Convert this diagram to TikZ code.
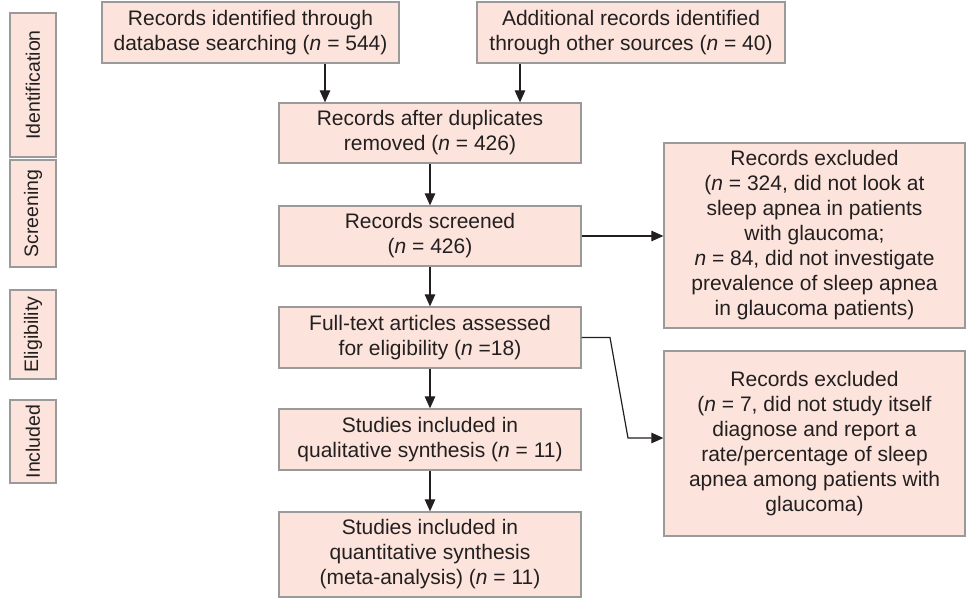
\documentclass[tikz,border=0pt]{standalone}
\usepackage{fontspec}
\setmainfont{Liberation Sans}
\usetikzlibrary{arrows.meta,calc}
\definecolor{boxfill}{HTML}{FCE4DC}
\definecolor{boxline}{HTML}{9A9A9A}
\definecolor{txt}{HTML}{231F20}
\begin{document}
\begin{tikzpicture}[x=1pt,y=-1pt,
  box/.style={draw=boxline,fill=boxfill,line width=1.3pt,align=center,inner sep=2pt,
    text=txt,font=\fontsize{21}{25}\selectfont},
  side/.style={draw=boxline,fill=boxfill,line width=1.3pt,align=center,inner sep=1pt,
    text=txt,rotate=90,font=\fontsize{19.5}{23}\selectfont,minimum height=46pt},
  arr/.style={draw=txt,line width=1.2pt,-{Triangle[width=10.5pt,length=12pt]}}]
\useasboundingbox (0,0) rectangle (967,600);
% side labels
\node[side,minimum width=144pt] (s1) at (33,85) {Identification};
\node[side,minimum width=107pt] (s2) at (33,213.5) {Screening};
\node[side,minimum width=89pt] (s3) at (33,334.5) {Eligibility};
\node[side,minimum width=83pt] (s4) at (33,441.5) {Included};
% main boxes
\node[box,minimum width=297pt,minimum height=61pt] (b1) at (250.5,32.5)
  {Records identified through\\database searching (\textit{n} = 544)};
\node[box,minimum width=308pt,minimum height=61pt] (b2) at (631,32.5)
  {Additional records identified\\through other sources (\textit{n} = 40)};
\node[box,minimum width=302pt,minimum height=60pt] (b3) at (430,133)
  {Records after duplicates\\removed (\textit{n} = 426)};
\node[box,minimum width=302pt,minimum height=60pt] (b4) at (430,236)
  {Records screened\\(\textit{n} = 426)};
\node[box,minimum width=302pt,minimum height=61pt] (b5) at (430,337.5)
  {Full-text articles assessed\\for eligibility (\textit{n} =18)};
\node[box,minimum width=302pt,minimum height=61pt] (b6) at (430,439.5)
  {Studies included in\\qualitative synthesis (\textit{n} = 11)};
\node[box,minimum width=302pt,minimum height=85pt] (b7) at (430,554.5)
  {Studies included in\\quantitative synthesis\\(meta-analysis) (\textit{n} = 11)};
% exclusion boxes
\node[box,minimum width=301pt,minimum height=185pt] (r1) at (814.5,235.5)
  {Records excluded\\(\textit{n} = 324, did not look at\\sleep apnea in patients\\with glaucoma;\\\textit{n} = 84, did not investigate\\prevalence of sleep apnea\\in glaucoma patients)};
\node[box,minimum width=301pt,minimum height=185pt] (r2) at (814.5,443.5)
  {Records excluded\\(\textit{n} = 7, did not study itself\\diagnose and report a\\rate/percentage of sleep\\apnea among patients with\\glaucoma)};
% connectors
\coordinate (c1) at (325,0);
\coordinate (c2) at (520,0);
\draw[arr] (c1 |- b1.south) -- (c1 |- b3.north);
\draw[arr] (c2 |- b2.south) -- (c2 |- b3.north);
\draw[arr] (b3.south) -- (b4.north);
\draw[arr] (b4.south) -- (b5.north);
\draw[arr] (b5.south) -- (b6.north);
\draw[arr] (b6.south) -- (b7.north);
\draw[arr] (b4.east) -- (b4.east -| r1.west);
\coordinate (k1) at (610,337.5);
\coordinate (k2) at (628,438);
\draw[arr] (b5.east) -- (k1) -- (k2) -- (k2 -| r2.west);
\end{tikzpicture}
\end{document}
